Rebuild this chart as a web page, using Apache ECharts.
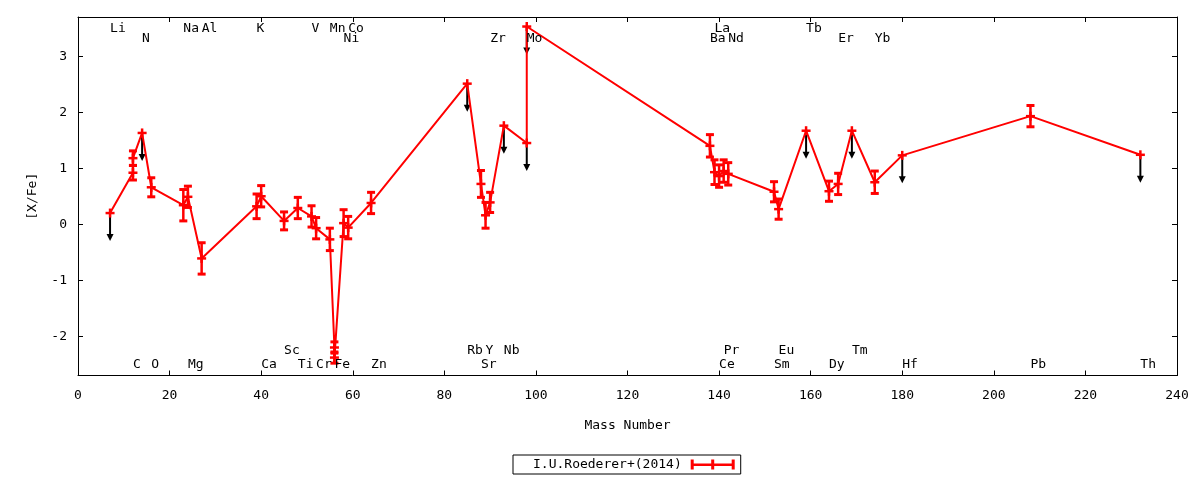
<!DOCTYPE html>
<html>
<head>
<meta charset="utf-8">
<script src="https://cdn.jsdelivr.net/npm/echarts@6/dist/echarts.min.js"></script>
<style>
html, body { margin: 0; padding: 0; background: #fff; }
#chart_box { width: 1200px; height: 480px; }
</style>
</head>
<body>
<div id="chart_box"></div>
<script>
/* 质量数 / [X/Fe] / 误差 / 上限标记 */
var mass = [7, 12, 12, 14, 16, 23, 24, 27, 39, 40, 45, 48, 51, 52, 55, 56, 56, 58, 59, 64,
	85, 88, 89, 90, 93, 98, 98, 138, 139, 140, 141, 142, 152, 153, 159, 164, 166, 169, 174, 180, 208, 232];
var xfe = [0.20, 0.92, 1.18, 1.63, 0.66, 0.34, 0.49, -0.61, 0.32, 0.50, 0.06, 0.29, 0.14, -0.07, -0.27, -2.20, -2.38, 0.02, -0.06, 0.38,
	2.51, 0.72, 0.16, 0.39, 1.76, 1.45, 3.53, 1.40, 0.93, 0.86, 0.95, 0.90, 0.58, 0.27, 1.67, 0.59, 0.72, 1.67, 0.75, 1.23, 1.93, 1.24];
var xfeErr = [0, 0.13, 0.13, 0, 0.17, 0.28, 0.19, 0.28, 0.22, 0.19, 0.16, 0.19, 0.19, 0.19, 0.20, 0.10, 0.10, 0.24, 0.20, 0.19,
	0, 0.24, 0.23, 0.18, 0, 0, 0, 0.20, 0.22, 0.20, 0.20, 0.20, 0.18, 0.18, 0, 0.18, 0.19, 0, 0.20, 0, 0.19, 0];
var upperLimit = [1, 0, 0, 1, 0, 0, 0, 0, 0, 0, 0, 0, 0, 0, 0, 0, 0, 0, 0, 0,
	1, 0, 0, 0, 1, 1, 1, 0, 0, 0, 0, 0, 0, 0, 1, 0, 0, 1, 0, 1, 0, 1];

/* 元素标签 */
var labelNames = ['Li', 'Na', 'Al', 'K', 'V', 'Mn', 'Co', 'La', 'Tb',
	'N', 'Ni', 'Zr', 'Mo', 'Ba', 'Nd', 'Er', 'Yb',
	'Sc', 'Rb', 'Y', 'Nb', 'Pr', 'Eu', 'Tm',
	'C', 'O', 'Mg', 'Ca', 'Ti', 'Cr', 'Fe', 'Zn', 'Sr', 'Ce', 'Sm', 'Dy', 'Hf', 'Pb', 'Th'];
var labelMass = [7, 23, 27, 39, 51, 55, 59, 139, 159,
	14, 58, 90, 98, 138, 142, 166, 174,
	45, 85, 89, 93, 141, 153, 169,
	12, 16, 24, 40, 48, 52, 56, 64, 88, 140, 152, 164, 180, 208, 232];
var labelRow = [0, 0, 0, 0, 0, 0, 0, 0, 0,
	1, 1, 1, 1, 1, 1, 1, 1,
	2, 2, 2, 2, 2, 2, 2,
	3, 3, 3, 3, 3, 3, 3, 3, 3, 3, 3, 3, 3, 3, 3];

var seriesName = 'I.U.Roederer+(2014)';
var FONT = '"DejaVu Sans Mono", "Liberation Mono", monospace';
var rowY = [3.49, 3.31, -2.26, -2.51];
var ulDrop = 0.5;

var lineData = [], errData = [], ulData = [], labelData = [];
for (var i = 0; i < mass.length; i++) {
	lineData.push([mass[i], xfe[i]]);
	errData.push([mass[i], xfe[i], xfeErr[i]]);
	if (upperLimit[i]) ulData.push([mass[i], xfe[i]]);
}
for (var j = 0; j < labelNames.length; j++) {
	labelData.push([labelMass[j], rowY[labelRow[j]]]);
}

function renderErr(params, api) {
	var x = api.value(0), y = api.value(1), e = api.value(2);
	var c = api.coord([x, y]);
	var ls = { stroke: '#ff0000', lineWidth: 2.5 };
	var kids = [];
	if (e > 0) {
		var t = api.coord([x, y + e]);
		var b = api.coord([x, y - e]);
		kids.push({ type: 'line', shape: { x1: c[0], y1: t[1], x2: c[0], y2: b[1] }, style: ls });
		kids.push({ type: 'line', shape: { x1: c[0] - 4, y1: t[1], x2: c[0] + 4, y2: t[1] }, style: { stroke: '#ff0000', lineWidth: 3 } });
		kids.push({ type: 'line', shape: { x1: c[0] - 4, y1: b[1], x2: c[0] + 4, y2: b[1] }, style: { stroke: '#ff0000', lineWidth: 3 } });
	}
	/* 十字点 */
	kids.push({ type: 'line', shape: { x1: c[0] - 4.5, y1: c[1], x2: c[0] + 4.5, y2: c[1] }, style: ls });
	kids.push({ type: 'line', shape: { x1: c[0], y1: c[1] - 4.5, x2: c[0], y2: c[1] + 4.5 }, style: ls });
	return { type: 'group', children: kids };
}

function renderArrow(params, api) {
	var x = api.value(0), y = api.value(1);
	var s = api.coord([x, y]);
	var e = api.coord([x, y - ulDrop]);
	return {
		type: 'group',
		children: [
			{ type: 'line', shape: { x1: s[0], y1: s[1], x2: e[0], y2: e[1] - 4 }, style: { stroke: '#000', lineWidth: 2 } },
			{ type: 'polygon', shape: { points: [[e[0] - 3.5, e[1] - 7], [e[0] + 3.5, e[1] - 7], [e[0], e[1]]] }, style: { fill: '#000' } }
		]
	};
}

function renderLabel(params, api) {
	var c = api.coord([api.value(0), api.value(1)]);
	return {
		type: 'text',
		x: c[0], y: c[1],
		style: { text: labelNames[params.dataIndex], fill: '#000', font: '13px ' + FONT, textAlign: 'left', textVerticalAlign: 'middle' }
	};
}

var tickStyle = { show: true, inside: true, length: 5, lineStyle: { color: '#000', width: 1 } };
var lineStyleAxis = { show: true, onZero: false, lineStyle: { color: '#000', width: 1 } };
var labelStyle = { fontFamily: FONT, fontSize: 13, color: '#000' };

function yFmt(v) {
	return Math.abs(v - Math.round(v)) < 1e-6 ? String(Math.round(v)) : '';
}

var mychart = echarts.init(document.getElementById('chart_box'));
var option = {
	animation: false,
	backgroundColor: '#fff',
	grid: { left: 78, right: 23, top: 17, bottom: 104.5, containLabel: false },
	legend: {
		data: [{ name: seriesName, icon: 'path://M0 4H44V6.5H0Z M0 0H3V10H0Z M20.5 0H23.5V10H20.5Z M41 0H44V10H41Z' }],
		left: 513, top: 455,
		align: 'right',
		itemWidth: 44, itemHeight: 10,
		borderColor: '#000', borderWidth: 1, borderRadius: 0,
		padding: [3, 6, 3, 20],
		textStyle: { fontFamily: FONT, fontSize: 13, color: '#000', padding: [0, 4, 0, 0] },
		selectedMode: false
	},
	xAxis: [{
		type: 'value', position: 'bottom', min: 0, max: 240, interval: 20,
		axisLine: lineStyleAxis, axisTick: tickStyle,
		axisLabel: { margin: 14, fontFamily: FONT, fontSize: 13, color: '#000' },
		splitLine: { show: false },
		name: 'Mass Number', nameLocation: 'middle', nameGap: 44,
		nameTextStyle: labelStyle
	}, {
		type: 'value', position: 'top', min: 0, max: 240, interval: 20,
		axisLine: lineStyleAxis, axisTick: tickStyle,
		axisLabel: { show: false }, splitLine: { show: false }
	}],
	yAxis: [{
		type: 'value', position: 'left', min: -2.7, max: 3.7,
		minInterval: 1, maxInterval: 1, splitNumber: 6,
		axisLine: lineStyleAxis, axisTick: tickStyle,
		axisLabel: { margin: 11, fontFamily: FONT, fontSize: 13, color: '#000', formatter: yFmt, showMinLabel: false, showMaxLabel: false },
		splitLine: { show: false },
		name: '[X/Fe]', nameLocation: 'middle', nameGap: 39, nameRotate: 90,
		nameTextStyle: labelStyle
	}, {
		type: 'value', position: 'right', min: -2.7, max: 3.7,
		minInterval: 1, maxInterval: 1, splitNumber: 6,
		axisLine: lineStyleAxis, axisTick: tickStyle,
		axisLabel: { show: false }, splitLine: { show: false }
	}],
	series: [{
		name: 'arrows',
		type: 'custom',
		renderItem: renderArrow,
		data: ulData,
		encode: { x: 0, y: 1 },
		z: 1,
		silent: true
	}, {
		name: 'line',
		type: 'line',
		data: lineData,
		symbol: 'none',
		lineStyle: { color: '#ff0000', width: 2 },
		z: 2,
		silent: true
	}, {
		name: seriesName,
		type: 'custom',
		renderItem: renderErr,
		data: errData,
		encode: { x: 0, y: 1 },
		itemStyle: { color: '#ff0000' },
		z: 3,
		silent: true
	}, {
		name: 'labels',
		type: 'custom',
		renderItem: renderLabel,
		data: labelData,
		encode: { x: 0, y: 1 },
		z: 4,
		silent: true
	}]
};
mychart.setOption(option);
</script>
</body>
</html>
